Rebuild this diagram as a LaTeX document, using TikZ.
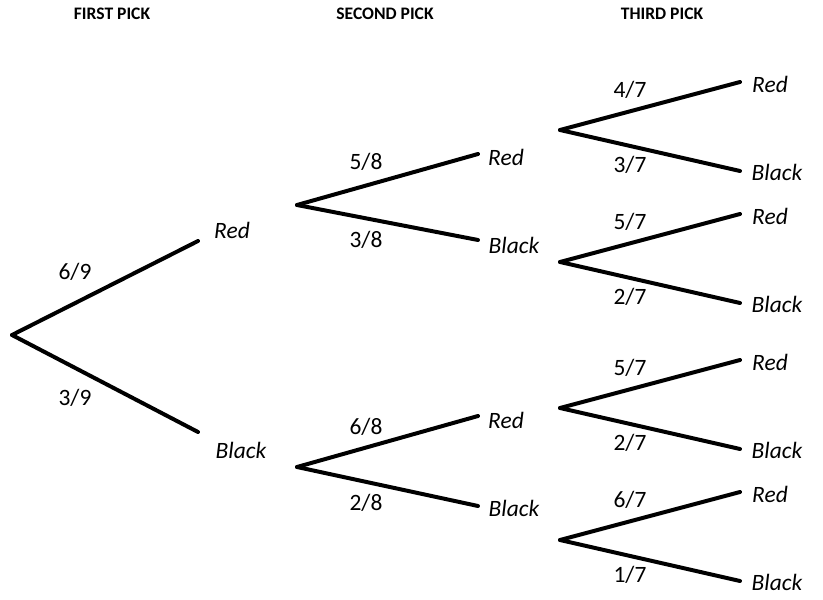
\documentclass[tikz,border=0pt]{standalone}
\usepackage{fontspec}
\setmainfont{Carlito}
\usetikzlibrary{positioning}
\tikzset{
branch/.style={line width=3.4pt, line cap=round},
prob/.style={font=\fontsize{20}{22}\selectfont},
leaf/.style={font=\fontsize{20}{22}\selectfont\itshape},
head/.style={font=\fontsize{15}{17}\selectfont\bfseries},
}

\begin{document}
\begin{tikzpicture}
    [x=0.03cm, y=-0.03cm]
    \useasboundingbox (0,0) rectangle (823,600);

    % headings
    \node [head] (h1) at (112,14) {FIRST PICK};
    \node [head] (h2) at (385,14) {SECOND PICK};
    \node [head] (h3) at (662,14) {THIRD PICK};

    % first pick
    \coordinate (root) at (12,335);
    \coordinate (r1) at (198,241);
    \coordinate (b1) at (198,432);
    \node [leaf] (lr1) at (232,230) {Red};
    \node [leaf] (lb1) at (241,450) {Black};
    \draw [branch] (root) -- (r1);
    \draw [branch] (root) -- (b1);
    \node [prob] (p1) at (75,272) {6/9};
    \node [prob] (p2) at (75,398) {3/9};

    % second pick
    \coordinate (s1) at (297,205);
    \coordinate (s2) at (297,467);
    \coordinate (rr) at (478,154);
    \coordinate (rb) at (478,240);
    \coordinate (br) at (478,416);
    \coordinate (bb) at (478,506);
    \node [leaf] (lrr) at (506,157) {Red};
    \node [leaf] (lrb) at (514,245) {Black};
    \node [leaf] (lbr) at (506,420) {Red};
    \node [leaf] (lbb) at (514,508) {Black};
    \draw [branch] (s1) -- (rr);
    \draw [branch] (s1) -- (rb);
    \draw [branch] (s2) -- (br);
    \draw [branch] (s2) -- (bb);
    \node [prob] at (366,162) {5/8};
    \node [prob] at (366,240) {3/8};
    \node [prob] at (366,427) {6/8};
    \node [prob] at (366,503) {2/8};

    % third pick
    \foreach \y/\pa/\pb [count=\i] in {130/4/3, 262/5/2, 408/5/2, 540/6/1}
    {
        \coordinate (t\i) at (560,\y);
        \coordinate (tr\i) at (740,\y-48);
        \coordinate (tb\i) at (740,\y+41);
        \draw [branch] (t\i) -- (tr\i);
        \draw [branch] (t\i) -- (tb\i);
        \node [leaf] (ltr\i) at (770,\y-46) {Red};
        \node [leaf] (ltb\i) at (777,\y+42) {Black};
        \node [prob] at (630,\y-40) {\pa/7};
        \node [prob] at (630,\y+35) {\pb/7};
    }
\end{tikzpicture}
\end{document}
